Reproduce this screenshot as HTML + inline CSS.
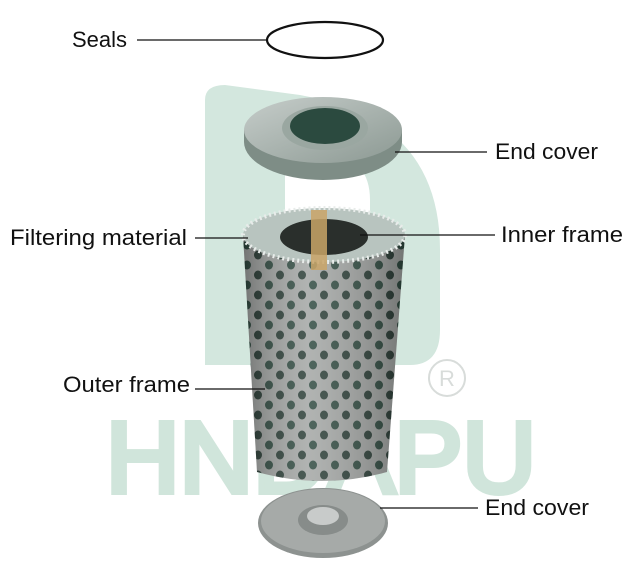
<!DOCTYPE html>
<html><head><meta charset="utf-8"><style>
html,body{margin:0;padding:0;background:#fff;}
svg{display:block;}
text{font-family:"Liberation Sans",sans-serif;}
</style></head><body>
<svg width="638" height="576" viewBox="0 0 638 576" xmlns="http://www.w3.org/2000/svg">
<defs>
<pattern id="holes" x="0" y="0" width="22" height="20" patternUnits="userSpaceOnUse">
<rect width="22" height="20" fill="#a3a6a4"/>
<ellipse cx="5" cy="5" rx="4" ry="4.5" fill="#2f4a40"/>
<ellipse cx="16" cy="15" rx="4" ry="4.5" fill="#2a3d36"/>
</pattern>
<linearGradient id="shade" x1="0" x2="1" y1="0" y2="0">
<stop offset="0" stop-color="#000" stop-opacity="0.3"/>
<stop offset="0.4" stop-color="#fff" stop-opacity="0.15"/>
<stop offset="1" stop-color="#000" stop-opacity="0.3"/>
</linearGradient>
<linearGradient id="cov" x1="0" x2="1" y1="0" y2="1">
<stop offset="0" stop-color="#c6cdca"/>
<stop offset="1" stop-color="#8c9993"/>
</linearGradient>
</defs>
<!-- watermark -->
<path d="M205 100 Q205 85 225 85 L300 95 Q440 120 440 250 L440 330 Q440 365 410 365 L370 365 L370 200 Q370 160 330 150 L285 140 L285 365 L205 365 Z" fill="#d3e7de"/>
<text x="106" y="492" font-size="100" fill="#d0e5db" stroke="#d0e5db" stroke-width="6" textLength="430" lengthAdjust="spacingAndGlyphs">HNDAPU</text>
<circle cx="447" cy="378" r="18" fill="none" stroke="#d8dcda" stroke-width="2"/>
<text x="447" y="386" font-size="22" fill="#d8dcda" text-anchor="middle">R</text>
<!-- seal -->
<ellipse cx="325" cy="40" rx="58" ry="18" fill="none" stroke="#111" stroke-width="2.2"/>
<!-- top end cover -->
<path d="M244 130 L244 142 A79 38 0 0 0 402 142 L402 130 Z" fill="#7e8d86"/>
<ellipse cx="323" cy="130" rx="79" ry="33" fill="url(#cov)"/>
<ellipse cx="325" cy="128" rx="43" ry="22" fill="#9aa7a1"/>
<ellipse cx="325" cy="126" rx="35" ry="18" fill="#2b4a3f"/>
<!-- cylinder -->
<path d="M243 235 L257 472 Q322 490 387 472 L405 235 Z" fill="url(#holes)"/>
<path d="M243 235 L257 472 Q322 490 387 472 L405 235 Z" fill="url(#shade)"/>
<ellipse cx="324" cy="235" rx="81" ry="27" fill="#b8c4bf"/>
<ellipse cx="324" cy="235" rx="81" ry="27" fill="none" stroke="#e8ecea" stroke-width="4" stroke-dasharray="2 3"/>
<ellipse cx="324" cy="237" rx="44" ry="18" fill="#2a2f2c"/>
<rect x="311" y="210" width="16" height="60" fill="#c9a567" opacity="0.85"/>
<!-- bottom end cover -->
<ellipse cx="323" cy="523" rx="65" ry="35" fill="#8d9290"/>
<ellipse cx="323" cy="521" rx="62" ry="32" fill="#a6aaa8"/>
<ellipse cx="323" cy="520" rx="25" ry="15" fill="#878c8a"/>
<ellipse cx="323" cy="516" rx="16" ry="9" fill="#c8cbca"/>
<!-- leaders -->
<g stroke="#111" stroke-width="1.3">
<line x1="137" y1="40" x2="267" y2="40"/>
<line x1="395" y1="152" x2="487" y2="152"/>
<line x1="195" y1="238" x2="248" y2="238"/>
<line x1="360" y1="235" x2="495" y2="235"/>
<line x1="195" y1="389" x2="265" y2="389"/>
<line x1="380" y1="508" x2="478" y2="508"/>
</g>
<g font-size="22" fill="#111">
<text x="72" y="47" textLength="55" lengthAdjust="spacingAndGlyphs">Seals</text>
<text x="495" y="159" textLength="103" lengthAdjust="spacingAndGlyphs">End cover</text>
<text x="10" y="245" textLength="177" lengthAdjust="spacingAndGlyphs">Filtering material</text>
<text x="501" y="242" textLength="122" lengthAdjust="spacingAndGlyphs">Inner frame</text>
<text x="63" y="392" textLength="127" lengthAdjust="spacingAndGlyphs">Outer frame</text>
<text x="485" y="515" textLength="104" lengthAdjust="spacingAndGlyphs">End cover</text>
</g>
</svg>
</body></html>
